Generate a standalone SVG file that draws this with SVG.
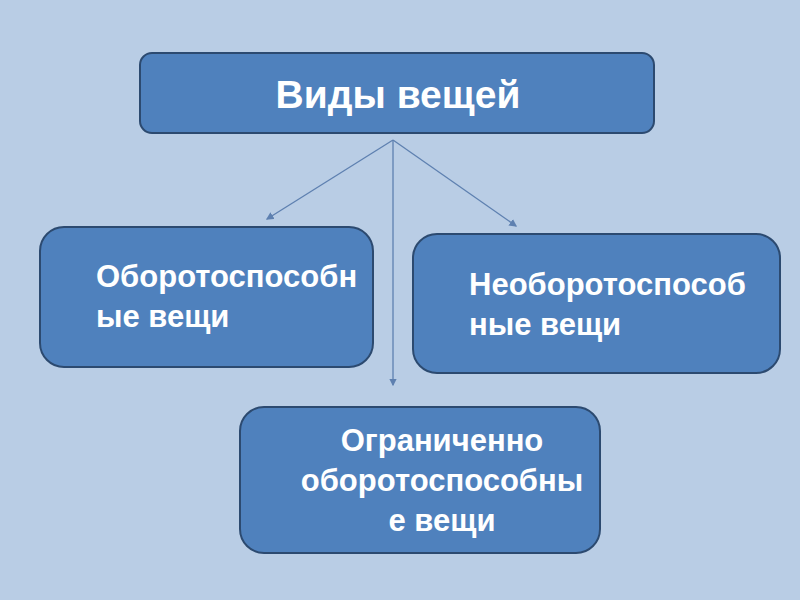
<svg xmlns="http://www.w3.org/2000/svg" width="800" height="600" viewBox="0 0 800 600">
<defs>
<style>
.box{fill:#4f81bd;stroke:#2c4a70;stroke-width:2}
.t{font-family:"Liberation Sans",Arial,sans-serif;font-weight:bold;fill:#fff;font-size:31px}
.c{stroke:#5e80b0;stroke-width:1.3;fill:none;marker-end:url(#a)}
</style>
<marker id="a" markerWidth="6" markerHeight="6" refX="5" refY="3" orient="auto"><path d="M0,0L6,3L0,6z" fill="#5e80b0"/></marker>
</defs>
<rect width="800" height="600" fill="#b9cde5"/>
<g id="connectors">
<line class="c" x1="393" y1="140" x2="267" y2="219"/>
<line class="c" x1="393" y1="140" x2="516" y2="226"/>
<line class="c" x1="393" y1="140" x2="393" y2="385"/>
</g>
<g id="top"><rect class="box" x="140" y="53" width="514" height="80" rx="12"/>
<text class="t" x="398" y="108" text-anchor="middle" style="font-size:39px">Виды вещей</text></g>
<g id="left"><rect class="box" x="40" y="227" width="333" height="140" rx="24"/>
<text class="t" x="96" y="287">Оборотоспособн</text><text class="t" x="96" y="327">ые вещи</text></g>
<g id="right"><rect class="box" x="413" y="234" width="367" height="139" rx="24"/>
<text class="t" x="469" y="295">Необоротоспособ</text><text class="t" x="469" y="335">ные вещи</text></g>
<g id="bottom"><rect class="box" x="240" y="407" width="360" height="146" rx="24"/>
<text class="t" x="442" y="451" text-anchor="middle">Ограниченно</text>
<text class="t" x="442" y="491" text-anchor="middle">оборотоспособны</text>
<text class="t" x="442" y="531" text-anchor="middle">е вещи</text></g>
</svg>
